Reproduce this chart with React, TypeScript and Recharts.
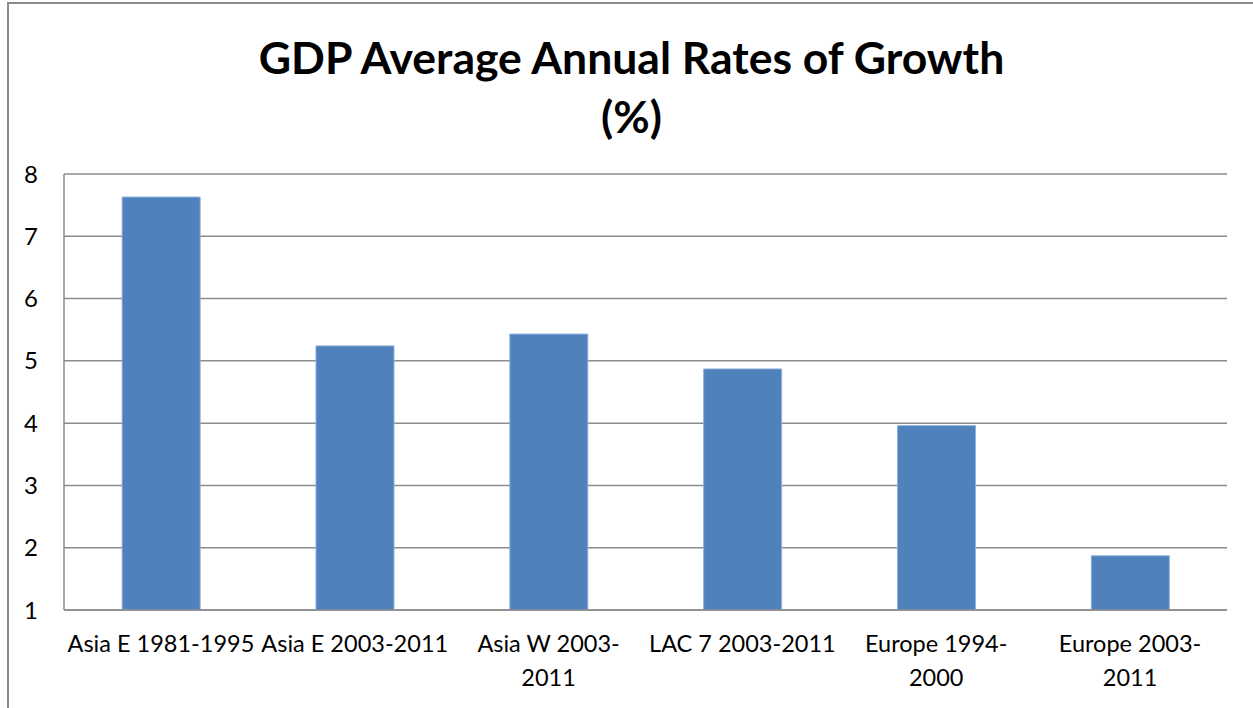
import { BarChart, Bar, XAxis, YAxis, CartesianGrid } from "recharts";

const categories = [
  "Asia E 1981-1995",
  "Asia E 2003-2011",
  "Asia W 2003-2011",
  "LAC 7 2003-2011",
  "Europe 1994-2000",
  "Europe 2003-2011",
];
const growth = [7.63, 5.24, 5.43, 4.87, 3.96, 1.87];
// how Excel wrapped each category label
const tickLines = [
  ["Asia E 1981-1995"],
  ["Asia E 2003-2011"],
  ["Asia W 2003-", "2011"],
  ["LAC 7 2003-2011"],
  ["Europe 1994-", "2000"],
  ["Europe 2003-", "2011"],
];
const yTicks = [1, 2, 3, 4, 5, 6, 7, 8];

const data = categories.map((name, i) => ({ name, value: growth[i] }));
const font = "Lato, 'Open Sans', sans-serif";

function CategoryTick(props: any) {
  const { x, y, index } = props;
  const lines = tickLines[index] ?? [String(props.payload?.value)];
  return (
    <g>
      {lines.map((line, i) => (
        <text
          key={i}
          x={x}
          y={y + 34 + i * 34}
          textAnchor="middle"
          fontFamily={font}
          fontSize={23.5}
          fill="#000"
        >
          {line}
        </text>
      ))}
    </g>
  );
}

export default function App() {
  return (
    <div style={{ position: "fixed", left: 0, top: 0, width: 1253, height: 708, background: "#fff", overflow: "hidden" }}>
      <div
        style={{
          position: "absolute",
          left: 7,
          top: 2,
          width: 1400,
          height: 800,
          borderLeft: "2px solid #8a8a8a",
          borderTop: "2px solid #8a8a8a",
        }}
      />
      <div
        style={{
          position: "absolute",
          left: 0,
          width: 1263,
          top: 27,
          textAlign: "center",
          fontFamily: font,
          fontWeight: 700,
          fontSize: 44.5,
          lineHeight: "59px",
          color: "#000",
        }}
      >
        GDP Average Annual Rates of Growth
        <br />
        (%)
      </div>
      <BarChart
        width={1253}
        height={708}
        data={data}
        margin={{ top: 174, right: 26, bottom: 0, left: 8 }}
        barCategoryGap="30%"
        style={{ position: "absolute", left: 0, top: 0 }}
      >
        <CartesianGrid vertical={false} stroke="#8c8c8c" strokeWidth={1.5} />
        <XAxis
          dataKey="name"
          height={98}
          interval={0}
          tickLine={false}
          axisLine={{ stroke: "#8c8c8c", strokeWidth: 1.5 }}
          tick={<CategoryTick />}
        />
        <YAxis
          width={56}
          domain={[1, 8]}
          ticks={yTicks}
          tickLine={false}
          tickSize={0}
          tickMargin={26}
          axisLine={{ stroke: "#8c8c8c", strokeWidth: 1.5 }}
          tick={{ fontFamily: font, fontSize: 24, fill: "#000" }}
        />
        <Bar dataKey="value" fill="#4f81bd" stroke="#8fb0da" strokeWidth={1} isAnimationActive={false} />
      </BarChart>
    </div>
  );
}
